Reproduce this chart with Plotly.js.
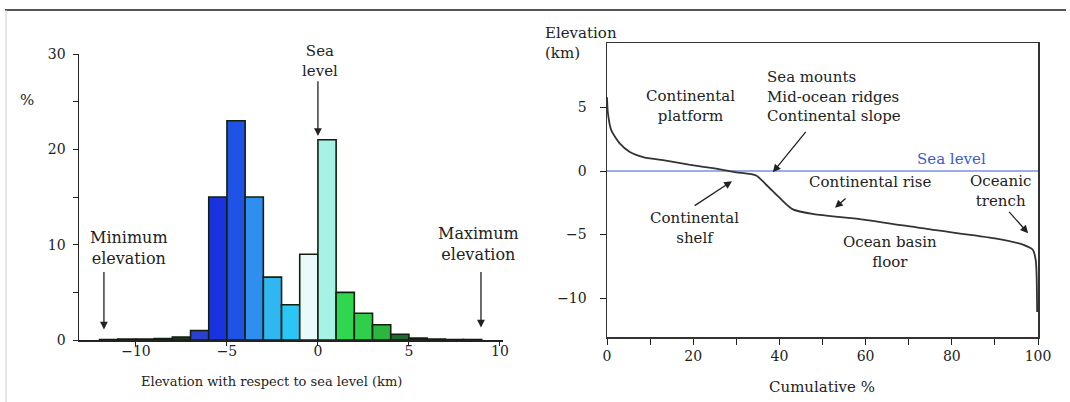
<!DOCTYPE html>
<html>
<head>
<meta charset="utf-8">
<script src="https://cdn.plot.ly/plotly-3.0.1.min.js"></script>
<style>html,body{margin:0;padding:0;background:#fff;}#chart{width:1070px;height:402px;}</style>
</head>
<body>
<div id="chart"></div>
<script>
// Left: histogram of Earth's surface elevation (1 km bins)
const binCenters = [-11.5, -10.5, -9.5, -8.5, -7.5, -6.5, -5.5, -4.5, -3.5, -2.5, -1.5, -0.5, 0.5, 1.5, 2.5, 3.5, 4.5, 5.5, 6.5, 7.5, 8.5];
const binPercent = [0.05, 0.1, 0.1, 0.15, 0.3, 1.0, 15.0, 23.0, 15.0, 6.6, 3.7, 9.0, 21.0, 5.0, 2.8, 1.6, 0.6, 0.2, 0.1, 0.05, 0.05];
const binColors = ['#1a2a1a', '#1a2a1a', '#1a2a1a', '#1a2a1a', '#1f3a20', '#2b3fd0', '#1a33e0', '#2052e6', '#2f8ff0', '#30b6f0', '#2cc6f6', '#eafafa', '#a6f2e4', '#30d64e', '#2fcf4c', '#2cb640', '#1f6a2c', '#1a3a1e', '#1a2a1a', '#1a2a1a', '#1a2a1a'];

// Right: hypsometric curve
const cumPct = [0, 0.2, 1, 2.9, 5.3, 8.4, 13, 19, 25, 30, 34.6, 37, 40, 43, 48, 59, 75, 90, 96.5, 98.8, 99.5, 99.8];
const elevKm = [5.8, 4.6, 3.2, 2.2, 1.5, 1.1, 0.85, 0.5, 0.2, -0.1, -0.35, -1.1, -2.1, -3.0, -3.4, -3.8, -4.6, -5.3, -5.8, -6.2, -7.1, -11.1];

const leftTicks = [-10, -5, 0, 5, 10];
const rightTicks = [0, 20, 40, 60, 80, 100];

const W = 1070, H = 402;
const px = v => v / W, py = v => 1 - v / H;
const serif = 'DejaVu Serif, serif';
const ink = '#222';

const traces = [
  {
    type: 'bar', x: binCenters, y: binPercent, width: 1,
    marker: {color: binColors, line: {color: '#10200f', width: 1.6}},
    xaxis: 'x', yaxis: 'y', hoverinfo: 'x+y', showlegend: false
  },
  {
    type: 'scatter', mode: 'lines', x: cumPct, y: elevKm,
    line: {color: '#333', width: 1.8, shape: 'spline', smoothing: 0.6},
    xaxis: 'x2', yaxis: 'y2', showlegend: false
  }
];

function txt(text, x, y, xref, yref, size, opts) {
  return Object.assign({
    text: text, x: x, y: y, xref: xref, yref: yref, showarrow: false,
    xanchor: 'center', yanchor: 'middle',
    font: {family: serif, size: size, color: ink}, align: 'center'
  }, opts || {});
}
function arrow(xTail, yTail, xHead, yHead, xref, yref) {
  return {
    text: '', x: xHead, y: yHead, ax: xTail, ay: yTail, xref: xref, yref: yref,
    axref: xref, ayref: yref, showarrow: true, arrowhead: 2, arrowsize: 1.2,
    arrowwidth: 1.3, arrowcolor: ink
  };
}

const annotations = [
  // left chart
  txt('%', px(27), py(100), 'paper', 'paper', 15),
  txt('Sea<br>level', 0.1, 29.3, 'x', 'y', 15),
  arrow(0, 27.3, 0, 21.4, 'x', 'y'),
  txt('Minimum<br>elevation', -10.4, 9.6, 'x', 'y', 16),
  arrow(-11.76, 7.3, -11.76, 1.1, 'x', 'y'),
  txt('Maximum<br>elevation', 8.8, 10.1, 'x', 'y', 16),
  arrow(8.96, 7.3, 8.96, 1.3, 'x', 'y'),
  txt('Elevation with respect to sea level (km)', px(271), py(381), 'paper', 'paper', 13),
  // right chart
  txt('Elevation<br>(km)', px(543), py(43), 'paper', 'paper', 15, {xanchor: 'left', align: 'left'}),
  txt('Continental<br>platform', 19.3, 5.1, 'x2', 'y2', 15),
  txt('Sea mounts<br>Mid-ocean ridges<br>Continental slope', 36.7, 5.9, 'x2', 'y2', 15, {xanchor: 'left', align: 'left'}),
  arrow(46.4, 3.2, 38.5, -0.1, 'x2', 'y2'),
  txt('Sea level', 80, 0.95, 'x2', 'y2', 15, {font: {family: serif, size: 15, color: '#3a5ad6'}}),
  txt('Continental rise', 61, -0.85, 'x2', 'y2', 15),
  arrow(55.7, -2.05, 52.9, -2.9, 'x2', 'y2'),
  txt('Oceanic<br>trench', 91.2, -1.6, 'x2', 'y2', 15),
  arrow(93, -3.1, 97.7, -4.9, 'x2', 'y2'),
  txt('Continental<br>shelf', 20.4, -4.5, 'x2', 'y2', 15),
  arrow(20, -2.8, 29, -0.8, 'x2', 'y2'),
  txt('Ocean basin<br>floor', 65.7, -6.4, 'x2', 'y2', 15),
  txt('Cumulative %', px(822), py(387), 'paper', 'paper', 15)
];

const shapes = [
  {type: 'line', xref: 'paper', yref: 'paper', x0: px(5), x1: px(1066), y0: py(10), y1: py(10), line: {color: '#555', width: 2}},
  {type: 'line', xref: 'paper', yref: 'paper', x0: px(6), x1: px(6), y0: py(10), y1: py(402), line: {color: '#ccc', width: 1}},
  {type: 'line', xref: 'x2', yref: 'y2', x0: 0, x1: 100, y0: 0, y1: 0, line: {color: '#3a5ad6', width: 1.2}, layer: 'below'}
];

const tickFont = {family: serif, size: 14, color: ink};

const layout = {
  width: W, height: H,
  margin: {l: 0, r: 0, t: 0, b: 0},
  paper_bgcolor: '#fff', plot_bgcolor: 'rgba(0,0,0,0)',
  showlegend: false,
  bargap: 0,
  xaxis: {
    domain: [px(79), px(503)], range: [-13.13, 10.17], anchor: 'y',
    tickvals: leftTicks, ticks: 'outside', ticklen: 4, tickcolor: ink,
    ticklabelstandoff: -6,
    showline: true, linecolor: ink, linewidth: 1.5, showgrid: false, zeroline: false,
    tickfont: tickFont
  },
  yaxis: {
    domain: [1 - 340 / H, 1 - 54 / H], range: [0, 30], anchor: 'x',
    dtick: 10, ticks: 'outside', ticklen: 5, tickcolor: ink,
    minor: {dtick: 5, ticks: 'outside', ticklen: 5, tickcolor: ink},
    ticklabelstandoff: 4,
    showline: true, linecolor: ink, linewidth: 1.5, showgrid: false, zeroline: false,
    tickfont: tickFont
  },
  xaxis2: {
    domain: [px(607), px(1038)], range: [0, 100], anchor: 'y2',
    tickvals: rightTicks, ticks: 'outside', ticklen: 6, tickcolor: ink,
    minor: {dtick: 10, ticks: 'outside', ticklen: 6, tickcolor: ink},
    showline: true, mirror: true, linecolor: '#333', linewidth: 1.5,
    showgrid: false, zeroline: false, tickfont: tickFont
  },
  yaxis2: {
    domain: [1 - 337 / H, 1 - 43 / H], range: [-13.07, 10.08], anchor: 'x2',
    tickvals: [-10, -5, 0, 5], ticks: 'outside', ticklen: 6, tickcolor: ink,
    ticklabelstandoff: 10,
    showline: true, mirror: true, linecolor: '#333', linewidth: 1.5,
    showgrid: false, zeroline: false, tickfont: tickFont
  },
  annotations: annotations,
  shapes: shapes
};

Plotly.newPlot('chart', traces, layout, {displayModeBar: false, staticPlot: true});
</script>
</body>
</html>
